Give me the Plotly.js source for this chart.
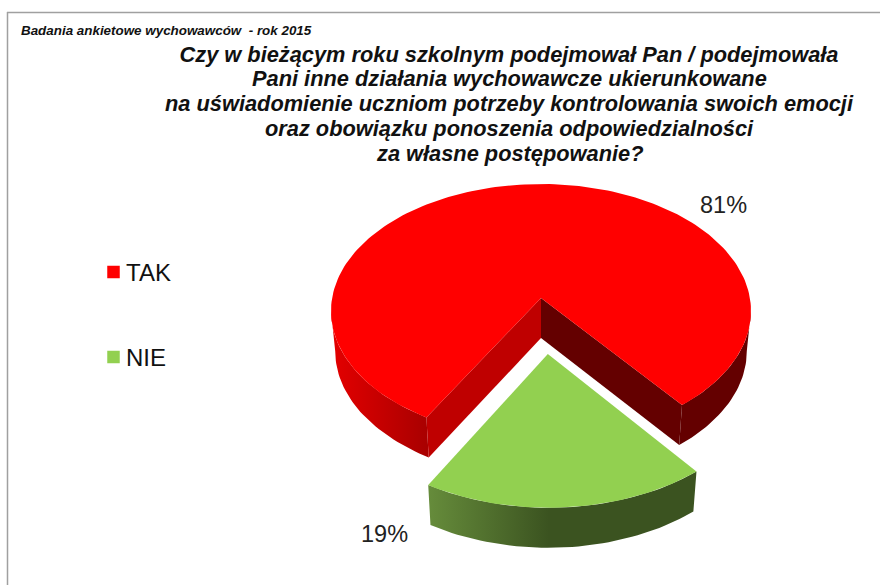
<!DOCTYPE html>
<html><head><meta charset="utf-8">
<script src="https://cdn.plot.ly/plotly-3.0.1.min.js"></script>
<style>html,body{margin:0;padding:0;background:#fff}#c{width:880px;height:585px}</style>
</head><body><div id="c"></div>
<script>
const categories = ['TAK', 'NIE'];
const values = [81, 19];
const colors = ['#ff0000', '#92d050'];
const subtitle = 'Badania ankietowe wychowawców  - rok 2015';
const titleLines = [
  'Czy w bieżącym roku szkolnym podejmował Pan / podejmowała',
  'Pani inne działania wychowawcze ukierunkowane',
  'na uświadomienie uczniom potrzeby kontrolowania swoich emocji',
  'oraz obowiązku ponoszenia odpowiedzialności',
  'za własne postępowanie?'
];

// view geometry of the tilted pie
const CX = 541, CY = 311, RX = 210, RY = 127, SKEW = 0.102, DEPTH = 40, TAPER = 0.98;
const START = 210, EXPLODE = 0.427;
const rad = d => d * Math.PI / 180;

function project(u, v) {
  const d = 1 - SKEW * v;
  return [CX + RX * u * Math.sqrt(1 - SKEW * SKEW) / d, CY + RY * (v - SKEW) / d];
}
function onRim(deg, ox, oy) { return project(ox + Math.sin(rad(deg)), oy - Math.cos(rad(deg))); }
function lower(p) { return [CX + (p[0] - CX) * TAPER, p[1] + DEPTH]; }
function arc(a, b, ox, oy) {
  const n = Math.max(2, Math.ceil(Math.abs(b - a) / 1.5)), pts = [];
  for (let i = 0; i <= n; i++) pts.push(onRim(a + (b - a) * i / n, ox, oy));
  return pts;
}
function poly(pts, color, gradient) {
  const t = { x: pts.map(p => p[0]), y: pts.map(p => p[1]), type: 'scatter', mode: 'lines',
    fill: 'toself', line: { width: 0 }, fillcolor: color, hoverinfo: 'skip', showlegend: false };
  if (gradient) t.fillgradient = { type: 'horizontal', colorscale: gradient };
  return t;
}
function band(top, color, gradient) {
  return poly(top.concat(top.map(lower).reverse()), color, gradient);
}

const total = values.reduce((a, b) => a + b, 0);
const sweep = values.map(v => v / total * 360);
const a0 = START, a1 = a0 + sweep[0], a2 = a1 + sweep[1];
const mid = rad((a1 + a2) / 2);
const ex = EXPLODE * Math.sin(mid), ey = -EXPLODE * Math.cos(mid);
const sil = Math.acos(-SKEW) * 180 / Math.PI;

const apexR = project(0, 0), apexN = project(ex, ey);
const traces = [
  band(arc(a0, 360 - sil, 0, 0), '#c00000', [[0, '#e40000'], [1, '#a80000']]),
  band(arc(a1, 360 + sil, 0, 0), '#640000'),
  band([apexR, onRim(a0, 0, 0)], '#bf0000'),
  band([apexR, onRim(a1, 0, 0)], '#640000'),
  poly([apexR].concat(arc(a0, a1, 0, 0)), colors[0]),
  band(arc(a1, a2, ex, ey), '#3b5320', [[0, '#668c3b'], [0.45, '#3b5320'], [1, '#3b5320']]),
  poly([apexN].concat(arc(a1, a2, ex, ey)), colors[1])
];

const FONT = '"Liberation Sans", Arial, sans-serif';
const titleFont = { family: FONT, size: 21.8, color: '#111', weight: 'bold', style: 'italic' };
const keyX = 113.5, keyLabelX = 126, keyY = [272, 357], TITLE_X = 509, TITLE_Y = 54, TITLE_STEP = 24.8;

categories.forEach((c, i) => traces.push({
  x: [keyX], y: [keyY[i]], type: 'scatter', mode: 'markers', name: c,
  marker: { symbol: 'square', size: 12.5, color: colors[i] }, hoverinfo: 'skip', showlegend: false
}));

const layout = {
  width: 880, height: 585, margin: { l: 0, r: 0, t: 0, b: 0 },
  paper_bgcolor: '#fff', plot_bgcolor: '#fff', showlegend: false,
  xaxis: { range: [0, 880], visible: false, fixedrange: true },
  yaxis: { range: [585, 0], visible: false, fixedrange: true },
  title: { text: titleLines[0], font: titleFont, x: TITLE_X / 880, xanchor: 'center', xref: 'paper',
    y: 1 - TITLE_Y / 585, yanchor: 'middle', yref: 'paper', automargin: false },
  annotations: [
    { text: subtitle, xref: 'x', yref: 'y', x: 18.5, y: 30, xanchor: 'left', yanchor: 'middle', showarrow: false,
      font: { family: FONT, size: 13.4, color: '#111', weight: 'bold', style: 'italic' } },
    { text: values[0] + '%', xref: 'x', yref: 'y', x: 723, y: 205, showarrow: false, xanchor: 'center', yanchor: 'middle',
      font: { family: FONT, size: 23.5, color: '#222' } },
    { text: values[1] + '%', xref: 'x', yref: 'y', x: 384, y: 534, showarrow: false, xanchor: 'center', yanchor: 'middle',
      font: { family: FONT, size: 23.5, color: '#222' } }
  ].concat(titleLines.slice(1).map((t, i) => ({
    text: t, xref: 'x', yref: 'y', x: TITLE_X, y: TITLE_Y + TITLE_STEP * (i + 1), xanchor: 'center', yanchor: 'middle',
    showarrow: false, font: titleFont
  }))).concat(categories.map((c, i) => ({
    text: c, xref: 'x', yref: 'y', x: keyLabelX, y: keyY[i], xanchor: 'left', yanchor: 'middle', xshift: -2,
    showarrow: false, font: { family: FONT, size: 24, color: '#111' }
  }))),
  shapes: [
    { type: 'line', xref: 'x', yref: 'y', x0: 7, x1: 880, y0: 12.5, y1: 12.5, line: { color: '#a0a0a0', width: 1.5 } },
    { type: 'line', xref: 'x', yref: 'y', x0: 7.5, x1: 7.5, y0: 12, y1: 585, line: { color: '#a0a0a0', width: 1.5 } }
  ]
};
Plotly.newPlot('c', traces, layout, { displayModeBar: false, staticPlot: true });
</script></body></html>
